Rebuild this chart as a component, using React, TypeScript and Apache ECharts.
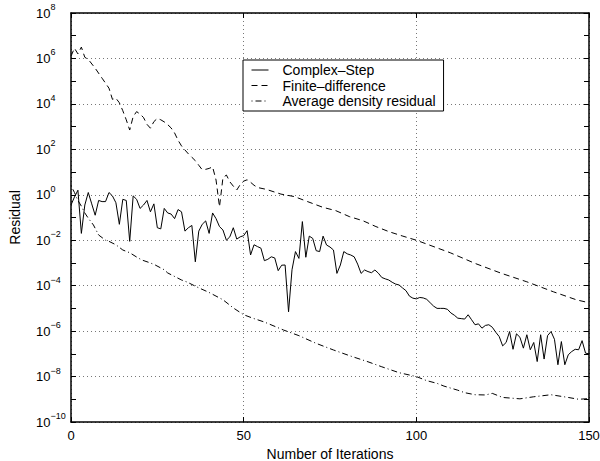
import React, { useEffect, useRef } from "react";
import * as echarts from "echarts";

// ---- data (residuals stored as log10 exponents) ----
const legendNames = ["Complex–Step", "Finite–difference", "Average density residual"];
const xTickValues = [0, 50, 100, 150];
const yTickExponents = [-10, -8, -6, -4, -2, 0, 2, 4, 6, 8];

// Complex-Step residual, one value per iteration 0..150 (log10)
const complexStepLog10 = [
  -0.45, -0.1, 0.2, -1.7, -0.45, 0.1, -0.4, -0.9, -0.25, -0.3,
  -0.3, 0.1, -0.05, -0.35, -1.3, -0.2, -0.25, -2.05, -0.05, -0.2,
  -0.6, -0.45, -0.25, -0.75, -0.4, -1.45, -1.5, -0.6, -0.8, -0.85,
  -1.05, -0.65, -0.75, -1.6, -1.45, -1.35, -2.95, -1.6, -1.3, -1.15,
  -1.7, -0.8, -1.05, -1.4, -1.55, -2.0, -1.85, -1.45, -1.95, -1.85,
  -1.8, -1.58, -2.65, -2.2, -2.28, -2.35, -2.9, -2.84, -2.73, -2.78,
  -3.34, -3.1, -3.09, -5.15, -3.3, -2.5, -2.8, -1.18, -2.75, -1.82,
  -1.92, -2.46, -2.5, -1.82, -2.21, -2.3, -2.43, -3.46, -3.09, -2.5,
  -2.6, -2.65, -2.73, -3.05, -3.46, -3.31, -3.38, -3.43, -3.31, -3.45,
  -3.64, -3.7, -3.75, -3.85, -3.93, -3.97, -4.1, -4.22, -4.46, -4.55,
  -4.58, -4.52, -4.54, -4.6, -4.75, -4.9, -5.0, -5.0, -5.0, -5.04,
  -5.2, -5.3, -5.43, -5.45, -5.47, -5.28, -5.5, -5.72, -5.68, -5.87,
  -5.75, -5.72, -5.83, -6.05, -6.24, -6.65, -6.5, -6.02, -6.8, -6.12,
  -6.27, -6.75, -6.16, -6.82, -6.5, -7.34, -6.16, -7.23, -6.2, -6.02,
  -6.36, -7.48, -6.46, -7.48, -7.04, -6.9, -6.8, -6.82, -6.42, -6.97,
  -7.0,
];

// Finite-difference residual (iteration, log10)
const finiteDiffIter = [
  0, 1, 2, 3, 4, 5, 7, 9, 11, 12, 13, 14, 15, 16, 17, 18, 19, 20, 21, 22,
  23, 24, 25, 26, 27.5, 29, 30, 31, 32, 33, 34, 35, 36, 37, 38, 39, 40, 41, 42, 43,
  44, 45, 46, 47, 48, 49, 50, 51, 52, 53, 54, 56.5, 60.8, 64.7, 68.5, 72.9, 76.7, 80.6, 84.5, 88.3,
  92.2, 96.1, 100, 109.8, 117, 124.7, 132, 139.7, 146.5, 150,
];
const finiteDiffLog10 = [
  6.1, 6.45, 6.2, 6.5, 6.05, 5.96, 5.57, 5.13, 4.69, 4.2, 4.25, 4.05, 3.7, 3.3, 2.85, 3.44, 3.66, 3.55, 3.4, 3.1,
  2.93, 3.22, 3.36, 3.3, 3.16, 2.94, 2.72, 2.4, 2.15, 1.97, 1.8, 1.65, 1.5, 1.3, 1.1, 1.12, 1.16, 1.23, 0.65, -0.53,
  0.75, 0.87, 0.57, 0.38, 0.21, 0.45, 0.6, 0.66, 0.55, 0.42, 0.32, 0.24, 0.03, -0.08, -0.3, -0.55, -0.7, -0.96, -1.14, -1.4,
  -1.63, -1.82, -2.0, -2.55, -3.02, -3.46, -3.83, -4.27, -4.63, -4.75,
];

// Average density residual (iteration, log10)
const avgDensityIter = [
  0, 1, 2, 3, 4, 5, 6.5, 8, 10, 11, 13, 15, 17, 19, 20.5, 23, 24.5, 27, 28, 32,
  33.6, 36.5, 40, 44, 47, 50, 53, 56, 61.5, 66, 71, 76, 81, 86, 90, 95, 100, 103, 106, 108,
  112, 114, 117, 120, 122, 125, 130, 134, 139, 144, 147, 150,
];
const avgDensityLog10 = [
  0.4, 0.1, -0.25, -0.5, -0.8, -1.03, -1.33, -1.77, -2.0, -2.05, -2.2, -2.43, -2.55, -2.74, -2.87, -3.0, -3.1, -3.3, -3.44, -3.75,
  -3.84, -4.06, -4.3, -4.62, -4.98, -5.28, -5.45, -5.6, -5.95, -6.2, -6.54, -6.83, -7.1, -7.35, -7.57, -7.83, -8.0, -8.18, -8.3, -8.42,
  -8.6, -8.71, -8.8, -8.81, -8.74, -8.92, -8.98, -8.89, -8.8, -8.92, -9.0, -8.97,
];

const FONT = "'Liberation Sans', Arial, Helvetica, sans-serif";

export default function App() {
  const ref = useRef<HTMLDivElement>(null);
  useEffect(() => {
    if (!ref.current) return;
    const chart = echarts.init(ref.current, undefined, { renderer: "svg" });
    const axisLine = { show: true, onZero: false, lineStyle: { color: "#000", width: 1.5 } };
    const gridLine = { show: true, lineStyle: { color: "#777", width: 1, type: [1, 3] as any } };
    const tick = { show: true, inside: true, length: 5, lineStyle: { color: "#000" } };
    const minorTick = { show: true, splitNumber: 2, length: 5, lineStyle: { color: "#000" } };

    const fmtExp = (v: number) => {
      const e = Math.round(v);
      if (yTickExponents.indexOf(e) < 0) return "";
      const s = e < 0 ? "\u2212" + String(-e) : String(e);
      return "{b|10}{s|" + s + "}";
    };

    const csData = complexStepLog10.map((v, i) => [i, v]);
    const fdData = finiteDiffIter.map((x, i) => [x, finiteDiffLog10[i]]);
    const adData = avgDensityIter.map((x, i) => [x, avgDensityLog10[i]]);

    chart.setOption({
      animation: false,
      grid: { left: 71, right: 11, top: 13, bottom: 39, containLabel: false, outerBoundsMode: "none" },
      legend: {
        show: true,
        orient: "vertical",
        left: 243,
        top: 60,
        padding: [3, 8, 3, 8],
        itemGap: 1.5,
        itemWidth: 17,
        itemHeight: 14,
        backgroundColor: "#fff",
        borderColor: "#000",
        borderWidth: 1,
        borderRadius: 0,
        data: legendNames,
        itemStyle: { opacity: 0, borderWidth: 0 },
        lineStyle: { width: 1 },
        textStyle: { fontFamily: FONT, fontSize: 14, color: "#000", lineHeight: 14, padding: [0, 0, 0, 9] },
      },
      xAxis: [
        {
          type: "value",
          min: 0,
          max: 150,
          interval: 50,
          position: "bottom",
          name: "Number of Iterations",
          nameLocation: "middle",
          nameGap: 22,
          nameTextStyle: { fontFamily: FONT, fontSize: 14, color: "#000" },
          axisLine,
          axisTick: tick,
          axisLabel: {
            show: true,
            margin: 7,
            fontFamily: FONT,
            fontSize: 13,
            color: "#000",
            formatter: (v: number) => (xTickValues.indexOf(v) >= 0 ? String(v) : ""),
          },
          splitLine: gridLine,
        },
        {
          type: "value",
          min: 0,
          max: 150,
          interval: 50,
          position: "top",
          axisLine,
          axisTick: tick,
          axisLabel: { show: false },
          splitLine: { show: false },
        },
      ],
      yAxis: [
        {
          type: "value",
          min: -10,
          max: 8,
          interval: 2,
          position: "left",
          name: "Residual",
          nameLocation: "middle",
          nameGap: 49,
          nameTextStyle: { fontFamily: FONT, fontSize: 14, color: "#000" },
          axisLine,
          axisTick: tick,
          minorTick,
          axisLabel: {
            show: true,
            align: "left",
            margin: 35,
            color: "#000",
            formatter: fmtExp,
            rich: {
              b: { fontFamily: FONT, fontSize: 13, color: "#000" },
              s: { fontFamily: FONT, fontSize: 9, color: "#000", padding: [0, 0, 12, 0] },
            },
          },
          splitLine: gridLine,
        },
        {
          type: "value",
          min: -10,
          max: 8,
          interval: 2,
          position: "right",
          axisLine,
          axisTick: tick,
          minorTick,
          axisLabel: { show: false },
          splitLine: { show: false },
        },
      ],
      series: [
        {
          name: legendNames[0],
          type: "line",
          data: csData,
          symbol: "none",
          lineStyle: { color: "#000", width: 1, type: "solid" },
          itemStyle: { color: "#000" },
        },
        {
          name: legendNames[1],
          type: "line",
          data: fdData,
          symbol: "none",
          lineStyle: { color: "#000", width: 1, type: [6, 4] },
          itemStyle: { color: "#000" },
        },
        {
          name: legendNames[2],
          type: "line",
          data: adData,
          symbol: "none",
          lineStyle: { color: "#000", width: 1, type: [1, 3, 6, 3] },
          itemStyle: { color: "#000" },
        },
      ],
    });
    return () => chart.dispose();
  }, []);
  return (
    <div
      ref={ref}
      style={{ position: "fixed", left: 0, top: 0, width: 600, height: 461, background: "#fff" }}
    />
  );
}
